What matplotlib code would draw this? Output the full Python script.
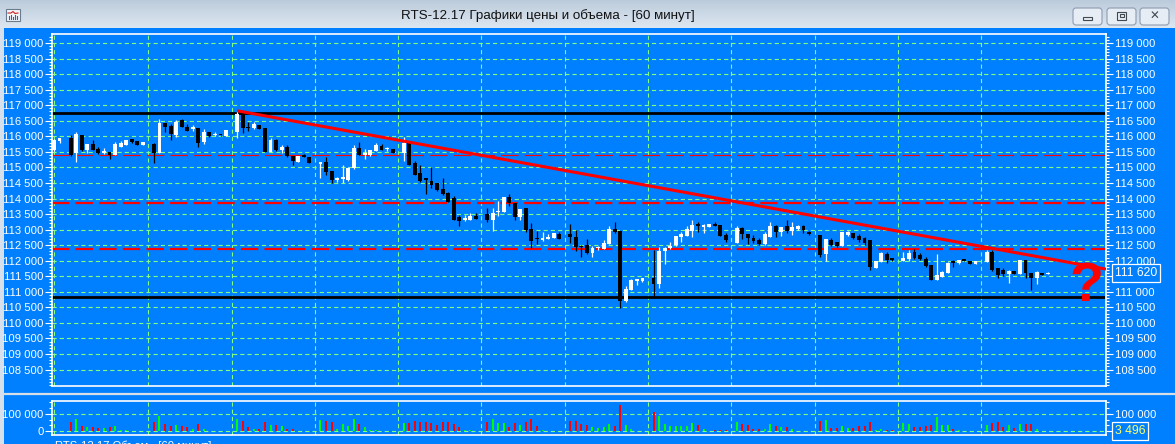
import matplotlib
matplotlib.use('Agg')
import matplotlib.pyplot as plt
import numpy as np
from matplotlib.patches import Rectangle, FancyBboxPatch
from matplotlib.ticker import MultipleLocator, FixedLocator, FuncFormatter

plt.rcParams['lines.scale_dashes'] = False
plt.rcParams['font.family'] = ['Liberation Sans', 'DejaVu Sans']

# ---------------- data ----------------
title = "RTS-12.17 Графики цены и объема - [60 минут]"

# candle slot positions (hourly bars, days separated by an empty slot)
slots = ([0, 1] + list(range(3, 17))
         + [s for d in range(10) for s in range(18 + 15 * d, 32 + 15 * d)]
         + list(range(168, 180)))

opens = [115560, 115850, 115946, 115473, 116032, 115560, 115753, 115600, 115470, 115505, 115400, 115650, 115720, 115914, 115850, 115720,
         115753, 115473, 116420, 116330, 116032, 116525, 116310, 116225, 116258, 115810, 116130, 116030, 116050, 116020,
         116150, 116710, 116310, 116280, 116360, 116260, 115505, 115880, 115560, 115640, 115370, 115185, 115400, 115325,
         115100, 115160, 114885, 114610, 114620, 114595, 114970, 115615, 115400, 115400, 115540, 115690, 115580, 115580,
         115455, 115775, 115130, 114810, 114650, 114560, 114490, 114300, 114190, 114010, 113390, 113310, 113310, 113440,
         113500, 113310, 113560, 113580, 114040, 113850, 113420, 113680, 113020, 112720, 112665, 112700, 112740, 112850,
         112850, 112775, 112480, 112505, 112260, 112400, 112380, 112530, 113020, 112955, 110715, 111060, 111360, 111360,
         111455, 111240, 112320, 112420, 112490, 112775, 112805, 112955, 113130, 113100, 113100, 113170, 113150, 112830,
         112580, 113040, 112860, 112740, 112665, 112530, 112770, 113130, 112915, 113130, 112965, 113020, 113126, 112930,
         112827, 112207, 112666, 112590, 112483, 112827, 112882, 112795, 112740, 112666, 111776, 111969, 112207, 112060,
         111991, 112056, 112271, 112184, 112056, 111863, 111380, 111487, 111600, 111960, 111917, 112030, 111991, 111885,
         111969, 112290, 111757, 111702, 111573, 111680, 111573, 112023, 111615, 111435, 111615, 111570]
highs = [115900, 115950, 116032, 116138, 116040, 115760, 115881, 115640, 115625, 115510, 115830, 115850, 115890, 115920, 115855, 115820,
         115795, 116550, 116425, 116390, 116525, 116550, 116390, 116360, 116265, 116235, 116135, 116140, 116055, 116205,
         116800, 116770, 116450, 116450, 116370, 116270, 115955, 115915, 115720, 115720, 115375, 115380, 115430, 115330,
         115170, 115345, 114890, 114690, 115080, 115000, 115720, 115830, 115580, 115570, 115775, 115755, 115640, 115585,
         115970, 115790, 115205, 115080, 114670, 115025, 114500, 114650, 114210, 114090, 113470, 113470, 113520, 113525,
         113690, 113705, 113920, 114045, 114145, 113855, 113675, 113700, 113220, 112955, 112930, 112850, 112885, 112915,
         113180, 112990, 112505, 112700, 112480, 112480, 112665, 113115, 113235, 112960, 111190, 111410, 111410, 111460,
         112345, 112450, 112425, 112590, 112800, 112915, 113115, 113310, 113230, 113180, 113175, 113250, 113155, 112900,
         113115, 113075, 112870, 112830, 112740, 112915, 113250, 113140, 113090, 113310, 113235, 113140, 113140, 112940,
         112840, 112700, 112721, 112600, 112930, 112966, 112890, 112850, 112750, 112680, 112000, 112271, 112271, 112100,
         112290, 112345, 112367, 112239, 112130, 111870, 112207, 111660, 111969, 112023, 112030, 112060, 111995, 111995,
         112345, 112345, 111760, 111757, 111690, 111685, 112030, 112030, 111620, 111680, 111620, 111625]
lows = [115540, 115775, 115367, 115184, 115528, 115455, 115550, 115431, 115430, 115270, 115395, 115640, 115715, 115775, 115715, 115715,
        115150, 115470, 116150, 115881, 115980, 116300, 116175, 116170, 115667, 115745, 115990, 116020, 116025, 116015,
        115955, 116100, 116170, 116230, 116225, 115500, 115500, 115530, 115455, 115345, 115080, 115180, 115320, 115145,
        114670, 114755, 114490, 114545, 114490, 114570, 114960, 115395, 115260, 115370, 115535, 115555, 115520, 115450,
        115215, 115075, 114750, 114520, 114145, 114330, 114240, 114110, 113880, 113300, 113115, 113280, 113305, 113335,
        113255, 112965, 113450, 113575, 113760, 113310, 113310, 112915, 112420, 112540, 112630, 112695, 112735, 112695,
        112580, 112320, 112130, 112215, 112130, 112350, 112375, 112525, 112900, 110470, 110685, 111055, 111220, 111300,
        110810, 111115, 111900, 112370, 112485, 112590, 112800, 112775, 112930, 112900, 113095, 113125, 112800, 112600,
        112560, 112690, 112530, 112580, 112510, 112520, 112760, 112770, 112800, 112900, 112830, 113000, 112882, 112840,
        112130, 111991, 112480, 112451, 112480, 112790, 112689, 112600, 112510, 111702, 111770, 111960, 111917, 111990,
        111980, 112000, 112050, 112030, 111810, 111370, 111370, 111480, 111590, 111790, 111910, 111980, 111880, 111880,
        111960, 111680, 111435, 111520, 111274, 111570, 111570, 111435, 111059, 111240, 111535, 111565]
closes = [115880, 115945, 115400, 116075, 115560, 115753, 115560, 115473, 115500, 115400, 115753, 115775, 115881, 115810, 115720, 115817,
          115473, 116440, 116310, 116075, 116460, 116310, 116180, 116290, 115775, 116130, 116020, 116060, 116030, 116200,
          116710, 116280, 116260, 116400, 116235, 115505, 115880, 115560, 115640, 115380, 115210, 115370, 115325, 115150,
          115160, 114850, 114600, 114640, 114680, 114990, 115615, 115400, 115455, 115560, 115720, 115560, 115590, 115455,
          115800, 115080, 114755, 114560, 114600, 114435, 114280, 114145, 113900, 113310, 113290, 113360, 113440, 113340,
          113310, 113545, 113600, 114040, 113850, 113400, 113670, 113000, 112645, 112700, 112740, 112770, 112880, 112700,
          112775, 112450, 112430, 112260, 112400, 112450, 112560, 113020, 112915, 110715, 111080, 111380, 111400, 111455,
          111240, 112320, 112420, 112470, 112795, 112860, 113020, 113150, 113120, 113150, 113170, 113130, 112805, 112650,
          113060, 112850, 112720, 112645, 112530, 112850, 113130, 112935, 113075, 112965, 113075, 113130, 112988, 112850,
          112184, 112689, 112506, 112483, 112914, 112930, 112721, 112666, 112560, 111808, 111991, 112239, 112023, 112030,
          112097, 112239, 112078, 112056, 111840, 111380, 111530, 111647, 111936, 111930, 112023, 112000, 111885, 111991,
          112290, 111702, 111541, 111573, 111680, 111573, 112023, 111615, 111435, 111647, 111541, 111620]
volumes = [3000, 3000, 52800, 69900, 30100, 22700, 22700, 18750, 18750, 22700, 31800, 7400, 5000, 3000, 2000, 2000,
           52800, 86900, 43200, 30100, 35800, 30100, 24400, 11400, 39800, 11400, 3000, 2000, 2000, 2000,
           69900, 58500, 22700, 11400, 11400, 51100, 35800, 34000, 30100, 13300, 11400, 3000, 3000, 3000,
           64200, 58500, 54500, 11400, 41500, 30100, 69900, 41500, 22700, 7400, 5000, 3000, 2000, 3000,
           49000, 49000, 58500, 54500, 54500, 49000, 35800, 52800, 52800, 43200, 24400, 7400, 7400, 2000,
           52800, 69900, 47000, 49000, 24400, 47000, 37900, 52800, 69900, 31800, 7400, 3000, 2000, 2000,
           58500, 58500, 41500, 35800, 24400, 17000, 24400, 43200, 30100, 149400, 35800, 13300, 2000, 2000,
           111400, 86900, 43200, 30100, 30100, 30100, 31800, 49000, 35800, 13300, 2000, 7400, 5600, 5600,
           52800, 43200, 35800, 13300, 13300, 13300, 43200, 30100, 24400, 24400, 13300, 3000, 3000, 3000,
           60300, 64200, 20900, 20900, 30100, 20900, 20900, 30100, 30100, 52800, 7400, 13300, 7400, 5600,
           49000, 43200, 26500, 26500, 30100, 35800, 83000, 35800, 35800, 13300, 5600, 2000, 2000, 2000,
           35800, 47000, 52800, 24400, 35800, 20900, 43200, 43200, 43200, 13300, 2000, 3496]

day_boundaries = [0, 17, 32, 47, 62, 77, 92, 107, 122, 137, 152, 167]
price_ticks = list(range(108500, 119001, 500))
volume_ticks = [0, 100000]

support_levels = [116750, 110830]          # black horizontal lines
resistance_levels = [113840, 112365]       # thick red dashed lines
thin_level = 115400                        # thin red dashed line
trend_x = [33, 189.5]
trend_y = [116820, 111730]
last_price = 111620
last_volume = 3496

# ---------------- layout ----------------
W, H = 1175, 444
BLUE = '#0080FF'
GRID = '#80FF80'
TICK_FS = 8.1
fig = plt.figure(figsize=(W / 100, H / 100), dpi=100)
fig.patch.set_facecolor(BLUE)


def px_axes(x0, y0, x1, y1, **kw):
    return fig.add_axes([x0 / W, 1 - y1 / H, (x1 - x0) / W, (y1 - y0) / H], **kw)


def fmt_space(v, pos=None):
    return f"{int(round(v)):,}".replace(',', ' ')


# window chrome
chrome = px_axes(0, 0, W, H, zorder=-5)
chrome.set_xlim(0, W)
chrome.set_ylim(H, 0)
chrome.axis('off')
grad = np.linspace(0, 1, 64)[:, None]
cmap = matplotlib.colors.LinearSegmentedColormap.from_list('tb', ['#BCCBDB', '#DDE7F1'])
chrome.imshow(grad, extent=(0, W, 28, 0), cmap=cmap, aspect='auto', zorder=1)
chrome.add_patch(Rectangle((0, 28), 4, H - 28, color='#D5E0EC', lw=0, zorder=2))
chrome.plot([4, W], [393.5, 393.5], color='#D8DEE6', lw=1.6, zorder=2)
chrome.text(548, 15.5, title, ha='center', va='center', fontsize=9.6,
            color='#111111', zorder=3)
# icon
chrome.add_patch(Rectangle((6, 9), 14, 12, fc='#F4F6F8', ec='#6A7C90', lw=0.8, zorder=3))
chrome.plot([8, 11, 13, 15, 18], [13, 13, 11.5, 13.5, 13], color='#D02020', lw=0.8, zorder=4)
for bx, bh in zip([9, 11, 13, 15, 17], [3, 4, 2, 4, 3]):
    chrome.plot([bx, bx], [19.5, 19.5 - bh], color='#3060C0', lw=0.8, zorder=4)
# buttons
for bx in [1073, 1107, 1140]:
    chrome.add_patch(FancyBboxPatch((bx, 8), 29, 17, boxstyle='round,pad=0,rounding_size=3',
                                    fc='#E6EDF5', ec='#8D9CB0', lw=0.8, zorder=3))
chrome.add_patch(Rectangle((1083, 17), 9, 3, fc='none', ec='#404850', lw=0.8, zorder=4))
chrome.add_patch(Rectangle((1117, 12), 9, 8, fc='none', ec='#404850', lw=0.8, zorder=4))
chrome.add_patch(Rectangle((1119.5, 14.5), 4, 3, fc='none', ec='#404850', lw=0.8, zorder=4))
chrome.text(1154.5, 16.5, '✕', ha='center', va='center', fontsize=8.5, color='#404850',
            family=['DejaVu Sans'], zorder=4)
chrome.text(55, 440.5, 'RTS-12.17 Объем - [60 минут]', ha='left', va='top', fontsize=TICK_FS,
            color='white', zorder=4)

# ---------------- price pane ----------------
ax = px_axes(52, 34, 1106, 386)
ax.set_facecolor(BLUE)
for sp in ax.spines.values():
    sp.set_color('white')
    sp.set_linewidth(1.2)
xlim = (-0.36, 189.5)
ax.set_xlim(*xlim)
ax.set_ylim(107972, 119289)
ax.yaxis.set_major_locator(FixedLocator(price_ticks))
ax.yaxis.set_minor_locator(MultipleLocator(100))
ax.yaxis.set_major_formatter(FuncFormatter(fmt_space))
ax.tick_params(axis='y', which='both', left=True, right=True, labelleft=True, labelright=True,
               colors='white', direction='out', width=0.8)
ax.tick_params(axis='y', which='major', length=5, labelsize=TICK_FS, pad=1.2)
ax.tick_params(axis='y', which='minor', length=2.3)
ax.tick_params(axis='x', which='both', bottom=False, top=False, labelbottom=False)

for p in price_ticks:
    ax.axhline(p, color=GRID, lw=0.8, linestyle=(0, (3, 2.2)), zorder=1)
for d in day_boundaries:
    ax.axvline(d, color=GRID, lw=0.8, linestyle=(0, (3, 2.2)), zorder=1)

ax.axhline(thin_level, color='red', lw=0.8, linestyle=(0, (12.5, 4.5)), zorder=2)
for lv in resistance_levels:
    ax.axhline(lv, color='red', lw=1.6, linestyle=(0, (12.5, 4.5)), zorder=2)
for lv in support_levels:
    ax.axhline(lv, color='black', lw=2.0, zorder=2)

slots_a = np.array(slots)
o = np.array(opens); c = np.array(closes); hi = np.array(highs); lo = np.array(lows)
cols = np.where(c >= o, 'white', 'black')
ax.vlines(slots_a, lo, hi, colors=cols, lw=0.9, zorder=3)
bottoms = np.minimum(o, c)
heights = np.maximum(np.abs(c - o), 45)
ax.bar(slots_a, heights, bottom=bottoms, width=0.7, color=cols, lw=0, zorder=4)

ax.plot(trend_x, trend_y, color='red', lw=2.2, zorder=5, solid_capstyle='butt')
ax.text(186, 111150, '?', color='red', fontsize=40, fontweight='bold', ha='center', va='center',
        zorder=6)

# hide the right-hand tick label hidden behind the last-price box
fig.canvas.draw()
for tk in ax.yaxis.get_major_ticks():
    if abs(tk.get_loc() - last_price) < 250:
        tk.label2.set_visible(False)
ax.annotate(fmt_space(last_price), xy=(1.0, last_price), xycoords=('axes fraction', 'data'),
            xytext=(6.3, 0), textcoords='offset points', ha='left', va='center',
            color='white', fontsize=TICK_FS + 0.6,
            bbox=dict(boxstyle='square,pad=0.25', fc=BLUE, ec='white', lw=0.9),
            annotation_clip=False, zorder=7)

# ---------------- volume pane ----------------
av = px_axes(52, 401, 1106, 435)
av.set_facecolor(BLUE)
for sp in av.spines.values():
    sp.set_color('white')
    sp.set_linewidth(1.2)
av.set_xlim(*xlim)
av.set_ylim(-21000, 172200)
av.yaxis.set_major_locator(FixedLocator(volume_ticks))
av.yaxis.set_minor_locator(MultipleLocator(100000 / 3))
av.yaxis.set_major_formatter(FuncFormatter(fmt_space))
av.tick_params(axis='y', which='both', left=True, right=True, labelleft=True, labelright=True,
               colors='white', direction='out', width=0.8)
av.tick_params(axis='y', which='major', length=5, labelsize=TICK_FS, pad=1.2)
av.tick_params(axis='y', which='minor', length=2.3)
av.tick_params(axis='x', which='both', bottom=False, top=False, labelbottom=False)
for v in volume_ticks:
    av.axhline(v, color=GRID, lw=0.8, linestyle=(0, (3, 2.2)), zorder=1)
for d in day_boundaries:
    av.axvline(d, color=GRID, lw=0.8, linestyle=(0, (3, 2.2)), zorder=1)
vcols = np.where(c >= o, '#00FF00', '#FF0000')
av.vlines(slots_a, 0, volumes, colors=vcols, lw=1.4, zorder=3)

fig.canvas.draw()
for tk in av.yaxis.get_major_ticks():
    if tk.get_loc() == 0:
        tk.label2.set_visible(False)
av.annotate(fmt_space(last_volume), xy=(1.0, 3000), xycoords=('axes fraction', 'data'),
            xytext=(6.3, 0), textcoords='offset points', ha='left', va='center',
            color='#FFFF66', fontsize=TICK_FS + 0.6,
            bbox=dict(boxstyle='square,pad=0.25', fc=BLUE, ec='white', lw=0.9),
            annotation_clip=False, zorder=7)

fig.savefig('out.png', dpi=100, facecolor=BLUE)
